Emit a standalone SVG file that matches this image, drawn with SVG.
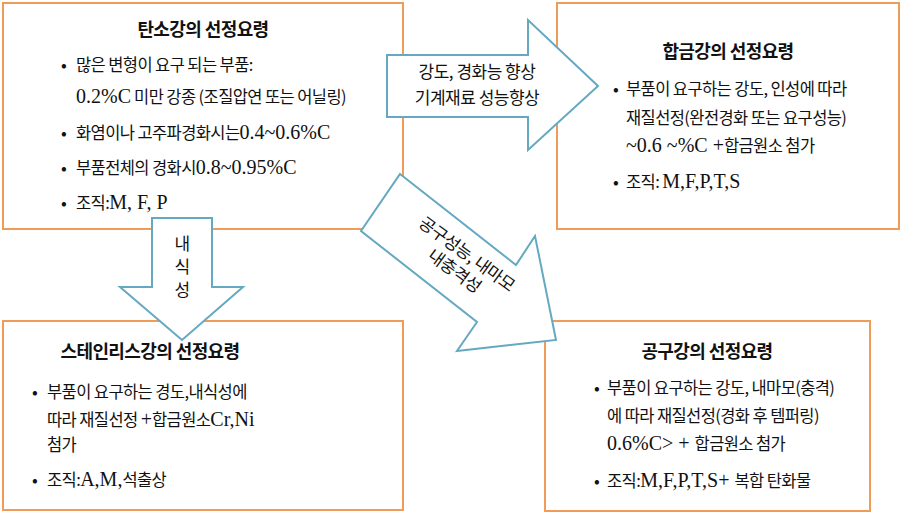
<svg xmlns="http://www.w3.org/2000/svg" width="908" height="514" viewBox="0 0 908 514">
<style>
.box{fill:#fff;stroke:#EE9C57;stroke-width:2}
.arr{fill:#fff;stroke:#64A8C2;stroke-width:2;stroke-linejoin:miter}
text{fill:#111}
.k{font-family:"Noto Sans CJK KR","Noto Sans",sans-serif;font-size:16.5px;letter-spacing:-0.6px}
.t{font-family:"Noto Sans CJK KR","Noto Sans",sans-serif;font-size:18px;font-weight:bold;letter-spacing:-0.6px}
.e{font-family:"Liberation Serif",serif;font-size:20px;letter-spacing:0}
.b{font-family:"Noto Sans CJK KR",sans-serif;font-size:17px;text-anchor:middle}
.m{text-anchor:middle}
.a{font-family:"Noto Sans CJK KR","Noto Sans",sans-serif;font-size:17px;letter-spacing:-0.5px;text-anchor:middle}
</style>
<g id="node-carbon">
<rect class="box" x="3" y="3" width="400" height="226"/>
<text class="t m" x="203" y="36">탄소강의 선정요령</text>
<text class="b" x="64" y="71">•</text>
<text class="k" x="76" y="71">많은 변형이 요구 되는 부품:</text>
<text class="k" x="76" y="103"><tspan class="e">0.2%C</tspan> 미만 강종 (조질압연 또는 어닐링)</text>
<text class="b" x="64" y="139">•</text>
<text class="k" x="76" y="139">화염이나 고주파경화시는<tspan class="e">0.4~0.6%C</tspan></text>
<text class="b" x="64" y="174">•</text>
<text class="k" x="76" y="174">부품전체의 경화시<tspan class="e">0.8~0.95%C</tspan></text>
<text class="b" x="64" y="209">•</text>
<text class="k" x="76" y="209">조직:<tspan class="e">M, F, P</tspan></text>
</g>
<g id="node-alloy">
<rect class="box" x="557" y="3" width="342" height="226"/>
<text class="t m" x="728" y="58">합금강의 선정요령</text>
<text class="b" x="616" y="95">•</text>
<text class="k" x="626" y="95">부품이 요구하는 강도, 인성에 따라</text>
<text class="k" x="626" y="124">재질선정(완전경화 또는 요구성능)</text>
<text class="k" x="626" y="152"><tspan class="e">~0.6 ~%C +</tspan>합금원소 첨가</text>
<text class="b" x="616" y="188">•</text>
<text class="k" x="626" y="188">조직: <tspan class="e">M,F,P,T,S</tspan></text>
</g>
<g id="node-stainless">
<rect class="box" x="3" y="321" width="400" height="189"/>
<text class="t m" x="150" y="358">스테인리스강의 선정요령</text>
<text class="b" x="35" y="398">•</text>
<text class="k" x="47" y="398">부품이 요구하는 경도,내식성에</text>
<text class="k" x="47" y="426">따라 재질선정 <tspan class="e">+</tspan>합금원소<tspan class="e">Cr,Ni</tspan></text>
<text class="k" x="47" y="451">첨가</text>
<text class="b" x="35" y="486">•</text>
<text class="k" x="47" y="486">조직:<tspan class="e">A,M,</tspan>석출상</text>
</g>
<g id="node-tool">
<rect class="box" x="545" y="321" width="325" height="190"/>
<text class="t m" x="707" y="358">공구강의 선정요령</text>
<text class="b" x="597" y="394">•</text>
<text class="k" x="607" y="394" letter-spacing="-1">부품이 요구하는 강도, 내마모(충격)</text>
<text class="k" x="607" y="422" letter-spacing="-1">에 따라 재질선정(경화 후 템퍼링)</text>
<text class="k" x="607" y="450"><tspan class="e">0.6%C&gt; + </tspan>합금원소 첨가</text>
<text class="b" x="597" y="487">•</text>
<text class="k" x="607" y="487">조직:<tspan class="e">M,F,P,T,S+ </tspan>복합 탄화물</text>
</g>
<g id="connectors">
<g id="arrow-alloy">
<polygon class="arr" points="387,55 528,55 528,20 598,86 528,150 528,117 387,117"/>
<text class="a" x="477" y="78">강도, 경화능 향상</text>
<text class="a" x="477" y="104">기계재료 성능향상</text>
</g>
<g id="arrow-stainless">
<polygon class="arr" points="152,218 212,218 212,287 243,287 182,340 120,287 152,287"/>
<text class="a" x="182" y="250">내</text>
<text class="a" x="182" y="273">식</text>
<text class="a" x="182" y="296">성</text>
</g>
<g id="arrow-tool">
<polygon class="arr" points="400,174 516,265 535,236 556,340 457,351 477,322 361,231"/>
<g transform="translate(461,262) rotate(36)">
<text class="a" x="0" y="-4">공구성능, 내마모</text>
<text class="a" x="0" y="17">내충격성</text>
</g>
</g>
</g>
</svg>
